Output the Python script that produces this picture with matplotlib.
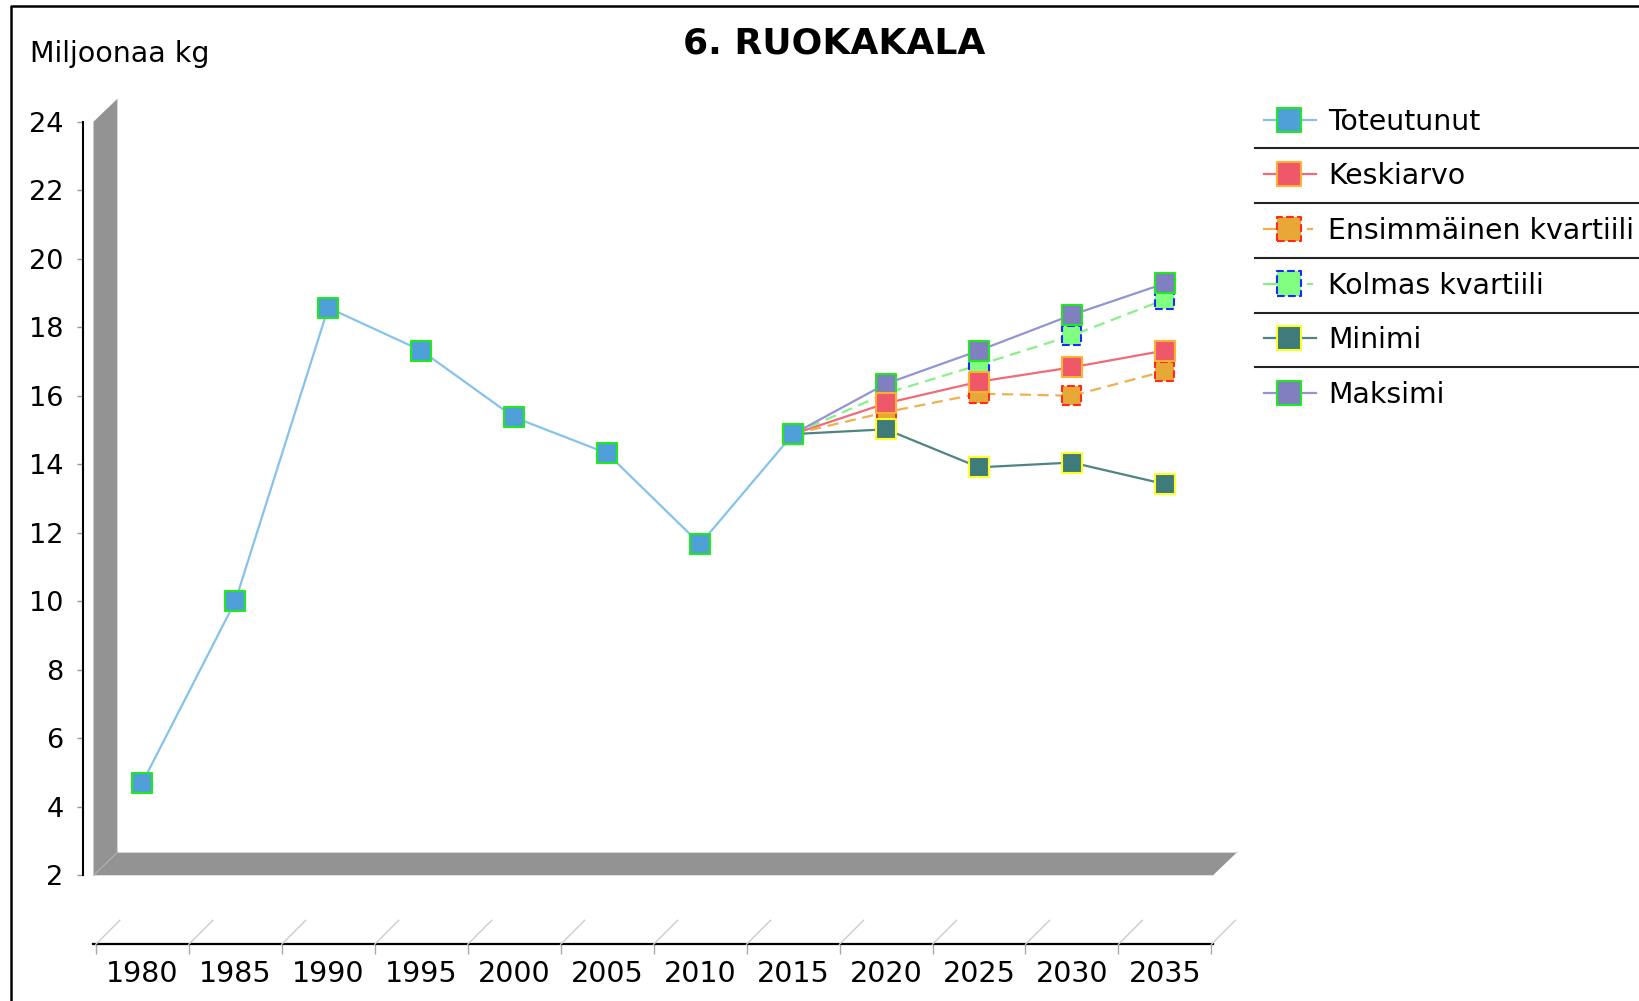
import numpy as np
import matplotlib
matplotlib.use("Agg")
from matplotlib import pyplot as plt
from matplotlib.patches import Polygon

# categories and values (million kg)
years = ["1980", "1985", "1990", "1995", "2000", "2005", "2010", "2015",
         "2020", "2025", "2030", "2035"]
toteutunut = [4.70, 10.0, 18.57, 17.32, 15.37, 14.32, 11.67, 14.88]
# projections start from the 2015 value
keskiarvo = [14.88, 15.78, 16.41, 16.83, 17.32]
ensimmainen = [14.88, 15.52, 16.06, 16.00, 16.72]
kolmas = [14.88, 16.07, 16.90, 17.76, 18.81]
minimi = [14.88, 15.02, 13.91, 14.05, 13.42]
maksimi = [14.88, 16.35, 17.32, 18.36, 19.28]
y_ticks = list(range(2, 25, 2))

labels = ["Toteutunut", "Keskiarvo", "Ensimmäinen kvartiili",
          "Kolmas kvartiili", "Minimi", "Maksimi"]
# line colour, marker fill, marker edge, dashed?
styles = [("#86c3ea", "#4fa0d8", "#22e822", False),
          ("#f06a78", "#ee5868", "#ffb030", False),
          ("#f0b050", "#e8a838", "#ff2a1a", True),
          ("#88f088", "#80ff80", "#1a2aff", True),
          ("#4f8484", "#3f7b7b", "#ffff20", False),
          ("#9494d4", "#8080c0", "#22e822", False)]
series = [toteutunut, keskiarvo, ensimmainen, kolmas, minimi, maksimi]
marker_z = [10, 8, 5, 4, 6, 7]

W, H = 1640, 1001
fig = plt.figure(figsize=(W / 100, H / 100), dpi=100)
fig.patch.set_facecolor("white")

# front plane of the 3d plot, in pixels from top-left
left, right, top, bottom = 93.5, 1213, 121.7, 875.3
ax = fig.add_axes([left / W, 1 - bottom / H, (right - left) / W, (bottom - top) / H])
ax.set_facecolor("none")
ax.set_xlim(-0.525, 11.517)
ax.set_ylim(2, 24)
for s in ["top", "right", "bottom"]:
    ax.spines[s].set_visible(False)
ax.spines["left"].set_position(("outward", 10.5 * 0.72))
ax.spines["left"].set_linewidth(1.5)
ax.set_xticks([])
ax.set_yticks(y_ticks)
ax.tick_params(axis="y", length=4.5, width=1, color="#999999", labelsize=19.5, pad=9.5)

x = np.arange(len(years))
for i, (vals, st) in enumerate(zip(series, styles)):
    lc, fc, ec, dashed = st
    xs = x[:len(vals)] if i == 0 else x[7:7 + len(vals)]
    ls = (0, (5, 3)) if dashed else "-"
    ax.plot(xs, vals, color=lc, lw=1.6, linestyle=ls, zorder=2, clip_on=False)
    ax.scatter(xs, vals, marker="s", s=13.7 ** 2, facecolors=fc, edgecolors=ec,
               linewidths=1.5, linestyles="--" if dashed else "-",
               zorder=marker_z[i], clip_on=False)

# category axis below the plot
cax_y = 944.3
cax = fig.add_axes([left / W, 1 - cax_y / H, (right - left) / W, 0.0001])
cax.set_facecolor("none")
cax.set_xlim(ax.get_xlim())
for s in ["top", "right", "left"]:
    cax.spines[s].set_visible(False)
cax.spines["bottom"].set_linewidth(1.6)
cax.set_yticks([])
cax.set_xticks(np.arange(-0.5, len(years), 1.0))
cax.set_xticklabels([])
cax.set_xticks(x, minor=True)
cax.set_xticklabels(years, minor=True)
cax.tick_params(axis="x", which="major", length=7, width=1, color="#aaaaaa")
cax.tick_params(axis="x", which="minor", length=0, labelsize=20.5, pad=11.5)

# overlay in pixel coordinates for the decorations
ov = fig.add_axes([0, 0, 1, 1])
ov.set_xlim(0, W)
ov.set_ylim(H, 0)
ov.axis("off")
ov.set_facecolor("none")

dx, dy = 24, -23
wall_col = "#939393"
ov.add_patch(Polygon([(left, top), (left + dx, top + dy), (left + dx, bottom + dy), (left, bottom)],
                     closed=True, fc=wall_col, ec="none"))
ov.add_patch(Polygon([(left, bottom), (left + dx, bottom + dy), (right + dx, bottom + dy), (right, bottom)],
                     closed=True, fc=wall_col, ec="none"))
ov.plot([left + dx, left + dx, right + dx], [top + dy, bottom + dy, bottom + dy], color="#d4d4d4", lw=0.8)
ov.plot([left, left + dx], [bottom, bottom + dy], color="#b0b0b0", lw=0.8)

# diagonal depth ticks on the category axis
for b in np.arange(-0.5, len(years), 1.0):
    px = cax.transData.transform((b, 0))[0]
    ov.plot([px, px + 24], [cax_y, cax_y - 24], color="#cccccc", lw=1)

# outer frame (right and bottom edges fall outside the image)
ov.plot([11, 11, W + 10], [H + 10, 6, 6], color="black", lw=1.8, clip_on=False)

ov.text(834, 54, "6. RUOKAKALA", fontsize=26, fontweight="bold", ha="center", va="baseline")
ov.text(30, 61.7, "Miljoonaa kg", fontsize=20.5, ha="left", va="baseline")

# legend
for i, (lab, st) in enumerate(zip(labels, styles)):
    lc, fc, ec, dashed = st
    yc = 119.7 + i * 54.6
    if dashed:
        ov.plot([1264, 1278], [yc, yc], color=lc, lw=1.6)
        ov.plot([1308, 1312], [yc, yc], color=lc, lw=1.6)
    else:
        ov.plot([1264, 1316], [yc, yc], color=lc, lw=1.6)
    ov.scatter([1289], [yc], marker="s", s=17.3 ** 2, facecolors=fc, edgecolors=ec,
               linewidths=1.5, linestyles="--" if dashed else "-", zorder=5)
    ov.text(1328, yc + 2, lab, fontsize=20.4, ha="left", va="center")
    if i < len(labels) - 1:
        ys = 148.3 + i * 54.75
        ov.plot([1255, W + 5], [ys, ys], color="#222222", lw=1.5, clip_on=False)

fig.savefig("out.png", dpi=100)
